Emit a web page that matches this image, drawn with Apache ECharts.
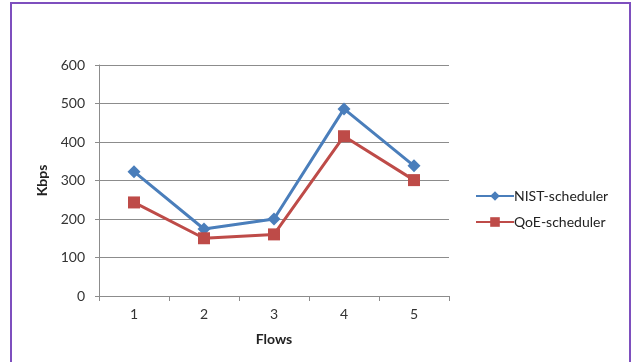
<!DOCTYPE html>
<html>
<head>
<meta charset="utf-8">
<style>
  html, body { margin: 0; padding: 0; background: #ffffff; }
  #chart { width: 632px; height: 362px; }
</style>
<script src="https://cdn.jsdelivr.net/npm/echarts@6/dist/echarts.min.js"></script>
</head>
<body>
<div id="chart"></div>
<script>
// Throughput per flow for the two schedulers
const flows = ['1', '2', '3', '4', '5'];
const nistScheduler = [323, 174, 200, 486, 338];
const qoeScheduler = [243, 150, 160, 415, 301];
const seriesNames = ['NIST-scheduler', 'QoE-scheduler'];
const yTicks = { min: 0, max: 600, interval: 100 };

const FONT = 'Lato, "Open Sans", sans-serif';
const GRID_GRAY = '#8c8c8c';

const chart = echarts.init(document.getElementById('chart'), null, { renderer: 'canvas' });

chart.setOption({
  animation: false,
  backgroundColor: '#ffffff',
  graphic: [{
    type: 'rect',
    shape: { x: 11, y: 3, width: 619, height: 380 },
    style: { fill: 'none', stroke: '#7e4fbe', lineWidth: 2 },
    silent: true
  }],
  grid: { left: 99, right: 183, top: 65, bottom: 66 },
  legend: {
    orient: 'vertical',
    left: 470,
    top: 184,
    itemGap: 12,
    itemWidth: 38,
    itemHeight: 12,
    textStyle: { fontFamily: FONT, fontSize: 14, color: '#222', padding: [0, 0, 0, -5] },
    data: seriesNames
  },
  xAxis: {
    type: 'category',
    data: flows,
    boundaryGap: true,
    name: 'Flows',
    nameLocation: 'middle',
    nameGap: 36,
    nameTextStyle: { fontFamily: FONT, fontSize: 14, fontWeight: 'bold', color: '#222' },
    axisLine: { lineStyle: { color: GRID_GRAY, width: 1 } },
    axisTick: { show: true, alignWithLabel: false, length: 5, lineStyle: { color: GRID_GRAY } },
    axisLabel: { fontFamily: FONT, fontSize: 14, color: '#333', margin: 11 },
    splitLine: { show: false }
  },
  yAxis: {
    type: 'value',
    min: yTicks.min,
    max: yTicks.max,
    interval: yTicks.interval,
    name: 'Kbps',
    nameLocation: 'middle',
    nameGap: 50,
    nameRotate: 90,
    nameTextStyle: { fontFamily: FONT, fontSize: 14, fontWeight: 'bold', color: '#222' },
    axisLine: { show: true, lineStyle: { color: GRID_GRAY, width: 1 } },
    axisTick: { show: true, inside: false, length: 4, lineStyle: { color: GRID_GRAY } },
    axisLabel: { fontFamily: FONT, fontSize: 14, color: '#333', margin: 14 },
    splitLine: { show: true, lineStyle: { color: GRID_GRAY, width: 1 } }
  },
  series: [
    {
      name: seriesNames[0],
      type: 'line',
      data: nistScheduler,
      symbol: 'diamond',
      symbolSize: 13,
      itemStyle: { color: '#4a7ebb' },
      lineStyle: { color: '#4a7ebb', width: 3 }
    },
    {
      name: seriesNames[1],
      type: 'line',
      data: qoeScheduler,
      symbol: 'rect',
      symbolSize: 12,
      itemStyle: { color: '#be4b48' },
      lineStyle: { color: '#be4b48', width: 3 }
    }
  ]
});
</script>
</body>
</html>
